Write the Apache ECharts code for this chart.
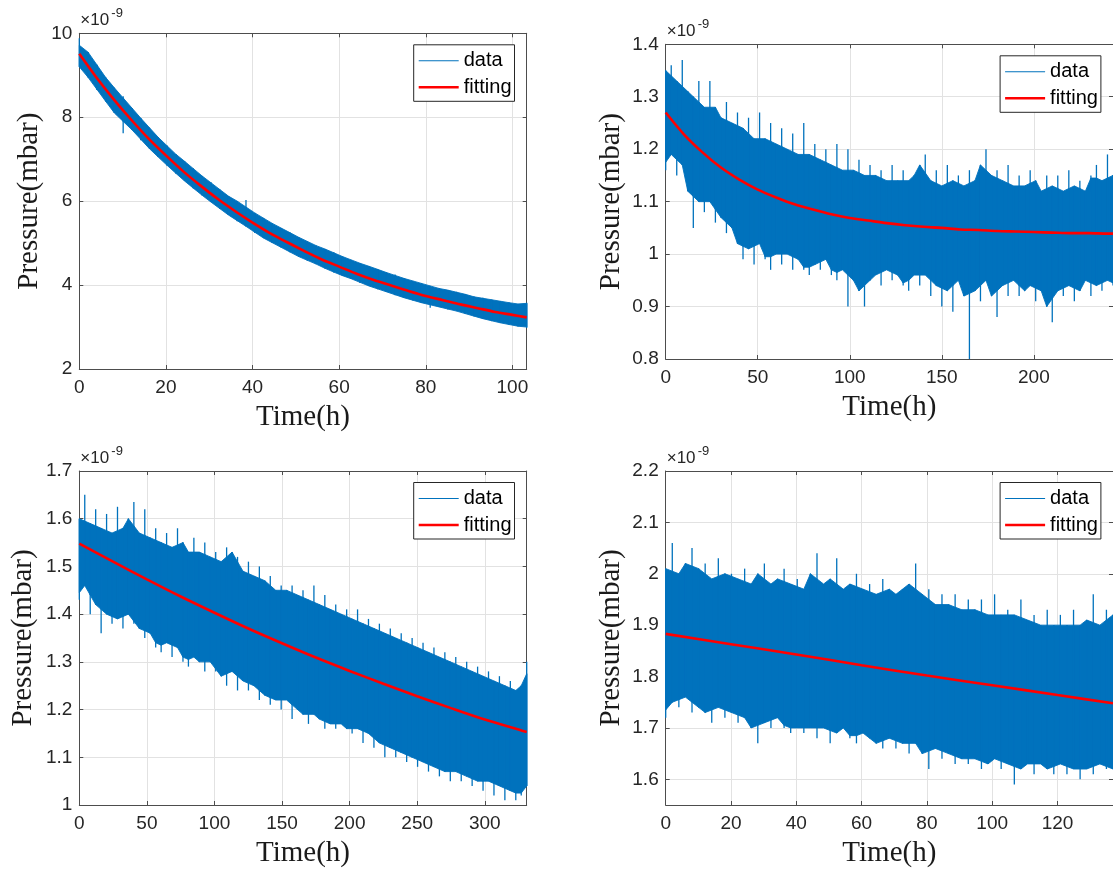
<!DOCTYPE html>
<html><head><meta charset="utf-8">
<script src="https://cdn.jsdelivr.net/npm/echarts@6/dist/echarts.min.js"></script>
<style>html,body{margin:0;padding:0;background:#fff}#c{width:1113px;height:870px}</style>
</head><body><div id="c"></div>
<script>
// ---------------- DATA (×1e-9 mbar) ----------------
// Panel 1 (top-left): upper / lower envelope of the noisy data, evenly sampled 0..103.3 h
const tlEnd = 103.3;
const tlHi = [9.88,9.55,9.25,8.95,8.70,8.50,8.22,7.98,7.75,7.52,
  7.32,7.12,6.95,6.78,6.60,6.45,6.28,6.12,6.00,6.03,
  5.72,5.60,5.47,5.36,5.25,5.14,5.04,4.94,4.86,4.78,
  4.68,4.60,4.52,4.45,4.38,4.30,4.25,4.16,4.10,4.05,
  3.98,3.92,3.88,3.84,3.78,3.72,3.70,3.65,3.62,3.58,
  3.55,3.58];
const tlLo = [9.20,8.95,8.65,8.38,8.10,7.62,7.70,7.45,7.25,7.05,
  6.85,6.66,6.48,6.30,6.14,5.98,5.82,5.67,5.52,5.40,
  5.24,5.12,5.00,4.90,4.78,4.68,4.58,4.50,4.40,4.30,
  4.22,4.15,4.05,3.98,3.90,3.84,3.76,3.70,3.64,3.58,
  3.46,3.48,3.42,3.38,3.32,3.26,3.20,3.14,3.10,3.06,
  3.02,2.98];
const tlFitT = [0,4,8,12,16,20,24,28,32,36,40,44,48,52,56,60,64,68,72,76,80,84,88,92,96,100,103.3];
const tlFitV = [9.51,8.94,8.42,7.94,7.49,7.09,6.71,6.37,6.05,5.76,5.49,5.24,5.02,4.81,4.61,4.44,4.27,4.12,3.99,3.86,3.74,3.64,3.54,3.45,3.36,3.29,3.23];

// Panel 2 (top-right): sampled 0..243 h
const trEnd = 243;
const trHi = [1.35,1.36,1.33,1.37,1.31,1.30,1.33,1.28,1.33,1.28,
  1.26,1.29,1.25,1.27,1.24,1.26,1.22,1.27,1.22,1.25,
  1.21,1.24,1.20,1.23,1.19,1.25,1.19,1.21,1.18,1.20,
  1.17,1.21,1.16,1.20,1.16,1.18,1.15,1.17,1.15,1.16,
  1.14,1.17,1.14,1.16,1.14,1.15,1.17,1.19,1.14,1.16,
  1.13,1.17,1.14,1.15,1.13,1.16,1.14,1.17,1.20,1.15,
  1.16,1.14,1.17,1.13,1.15,1.13,1.16,1.14,1.12,1.15,
  1.13,1.15,1.12,1.16,1.13,1.14,1.12,1.15,1.17,1.14,
  1.19,1.15];
const trLo = [1.16,1.19,1.15,1.17,1.12,1.05,1.10,1.08,1.10,1.06,
  1.07,1.04,1.05,1.02,0.99,1.01,0.98,1.02,0.99,0.97,
  1.00,0.98,1.00,0.97,0.99,0.97,0.96,0.98,0.97,0.99,
  0.96,0.95,0.97,0.90,0.95,0.93,0.90,0.95,0.96,0.94,
  0.97,0.95,0.96,0.94,0.93,0.96,0.94,0.96,0.92,0.94,
  0.90,0.93,0.89,0.95,0.92,0.80,0.93,0.91,0.95,0.92,
  0.88,0.94,0.92,0.95,0.92,0.93,0.94,0.91,0.93,0.90,
  0.87,0.93,0.92,0.94,0.91,0.93,0.95,0.92,0.94,0.93,
  0.95,0.94];
const trFitT = [0,10,20,30,40,50,60,70,80,90,100,110,120,130,140,150,160,170,180,190,200,210,220,230,240,243];
const trFitV = [1.270,1.228,1.194,1.165,1.142,1.123,1.108,1.095,1.085,1.076,1.069,1.064,1.059,1.055,1.052,1.050,1.047,1.046,1.044,1.043,1.042,1.041,1.040,1.040,1.039,1.039];

// Panel 3 (bottom-left): sampled 0..331 h
const blEnd = 331;
const blHi = [1.60,1.65,1.59,1.62,1.58,1.61,1.57,1.625,1.58,1.60,
  1.635,1.57,1.62,1.56,1.58,1.55,1.57,1.54,1.58,1.55,
  1.53,1.56,1.53,1.55,1.52,1.53,1.51,1.54,1.53,1.52,
  1.49,1.51,1.48,1.50,1.47,1.48,1.45,1.46,1.45,1.46,
  1.44,1.45,1.43,1.46,1.42,1.44,1.41,1.42,1.40,1.41,
  1.39,1.41,1.38,1.39,1.37,1.38,1.36,1.37,1.35,1.36,
  1.34,1.35,1.33,1.34,1.32,1.33,1.31,1.32,1.30,1.31,
  1.29,1.30,1.28,1.29,1.27,1.28,1.26,1.27,1.25,1.26,
  1.24,1.25,1.30];
const blLo = [1.43,1.46,1.40,1.42,1.36,1.40,1.38,1.39,1.37,1.40,
  1.38,1.37,1.35,1.36,1.33,1.32,1.34,1.31,1.33,1.30,
  1.29,1.31,1.30,1.28,1.30,1.28,1.27,1.25,1.28,1.24,
  1.26,1.24,1.25,1.22,1.23,1.21,1.22,1.20,1.22,1.18,
  1.20,1.19,1.17,1.19,1.18,1.16,1.17,1.16,1.17,1.16,
  1.15,1.16,1.13,1.15,1.12,1.13,1.10,1.12,1.10,1.11,
  1.09,1.10,1.08,1.09,1.07,1.08,1.06,1.07,1.05,1.07,
  1.05,1.06,1.04,1.05,1.03,1.05,1.02,1.04,1.01,1.03,
  1.01,1.02,1.04];
const blFitT = [0,25,50,75,100,125,150,175,200,225,250,275,300,325,331];
const blFitV = [1.548,1.510,1.473,1.437,1.403,1.370,1.339,1.309,1.281,1.254,1.228,1.203,1.179,1.158,1.153];

// Panel 4 (bottom-right): sampled 0..137 h
const brEnd = 137;
const brHi = [2.01,2.06,2.00,2.02,2.05,2.01,2.02,1.99,2.03,2.00,
  2.00,1.99,2.01,1.98,2.00,2.02,1.98,1.99,2.01,1.98,
  1.99,1.97,2.00,2.04,1.98,1.99,2.03,1.97,1.98,2.00,
  1.97,1.98,1.96,1.99,1.97,1.96,1.97,1.98,2.02,1.96,
  1.97,1.94,1.96,1.94,1.96,1.93,1.95,1.93,1.95,1.92,
  1.96,1.92,1.93,1.92,1.95,1.91,1.92,1.90,1.93,1.90,
  1.92,1.90,1.93,1.90,1.91,1.96,1.90,1.93,1.92];
const brLo = [1.72,1.75,1.74,1.76,1.73,1.74,1.73,1.71,1.74,1.72,
  1.73,1.71,1.72,1.70,1.67,1.71,1.70,1.72,1.70,1.69,
  1.70,1.69,1.70,1.68,1.70,1.67,1.69,1.70,1.68,1.67,
  1.69,1.68,1.67,1.66,1.68,1.66,1.67,1.65,1.67,1.65,
  1.62,1.66,1.64,1.65,1.63,1.64,1.63,1.64,1.62,1.63,
  1.64,1.62,1.63,1.59,1.62,1.63,1.61,1.63,1.62,1.61,
  1.63,1.61,1.62,1.60,1.62,1.61,1.63,1.62,1.62];
const brFitT = [0,20,40,60,80,100,120,137];
const brFitV = [1.883,1.863,1.843,1.822,1.802,1.783,1.764,1.748];

// axis tick settings
const xTickStep = [20, 50, 50, 20];
const yRange = [[2, 10], [0.8, 1.4], [1, 1.7], [1.55, 2.2]];
const yTickStep = [2, 0.1, 0.1, null];

// ---------------- LAYOUT / STYLE ----------------
const BLUE = '#0072BD', RED = '#FF0000', AX = '#4d4d4d', TXT = '#262626', GRIDC = '#e2e2e2';
const SANS = '"Liberation Sans", Arial, sans-serif';
const SERIF = '"Liberation Serif", "Times New Roman", serif';
const W = 447.4;
const grids = [
  {left: 79.3, top: 33.3, width: W, height: 335.7},
  {left: 665.7, top: 44.3, width: W, height: 314.7},
  {left: 79.3, top: 471, width: W, height: 334},
  {left: 665.7, top: 471, width: W, height: 334}
];
const yNameGaps = [35, 40, 41, 40];
const panels = [
  {hi: tlHi, lo: tlLo, end: tlEnd, fT: tlFitT, fV: tlFitV},
  {hi: trHi, lo: trLo, end: trEnd, fT: trFitT, fV: trFitV},
  {hi: blHi, lo: blLo, end: blEnd, fT: blFitT, fV: blFitV},
  {hi: brHi, lo: brLo, end: brEnd, fT: brFitT, fV: brFitV}
];

// Each item: [t, hi, lo, coreHi, coreLo, tNext, coreHiNext, coreLoNext]
// Draws the dense core between neighbouring samples plus the sample's own spike (lo..hi).
function bandItem(params, api) {
  const t = api.value(0), tn = api.value(5);
  const a = api.coord([t, api.value(3)]);
  const b = api.coord([tn, api.value(6)]);
  const c = api.coord([tn, api.value(7)]);
  const d = api.coord([t, api.value(4)]);
  const top = api.coord([t, api.value(1)]);
  const bot = api.coord([t, api.value(2)]);
  return {type: 'group', children: [
    {type: 'polygon', shape: {points: [a, b, c, d]}, style: {fill: BLUE, stroke: BLUE, lineWidth: 0.9}},
    {type: 'line', shape: {x1: top[0], y1: top[1], x2: bot[0], y2: bot[1]}, style: {stroke: BLUE, lineWidth: 1.3}}
  ]};
}

const option = {animation: false, backgroundColor: '#fff', grid: [], xAxis: [], yAxis: [], series: [], legend: [], graphic: []};

panels.forEach((p, k) => {
  const g = grids[k];
  option.grid.push({left: g.left, top: g.top, width: g.width, height: g.height, containLabel: false});
  const lineAx = {show: true, onZero: false, lineStyle: {color: AX, width: 1}};
  const tick = {show: true, inside: true, length: 4, lineStyle: {color: AX, width: 1}};
  const xBase = {gridIndex: k, type: 'value', min: 0, max: p.end, interval: xTickStep[k]};
  option.xAxis.push(Object.assign({}, xBase, {
    position: 'bottom', axisLine: lineAx, axisTick: tick,
    axisLabel: {margin: 9, fontSize: 19, fontFamily: SANS, color: TXT, showMaxLabel: false},
    splitLine: {show: true, lineStyle: {color: GRIDC, width: 1}},
    name: 'Time(h)', nameLocation: 'middle', nameGap: 34,
    nameTextStyle: {fontFamily: SERIF, fontSize: 29, color: '#1a1a1a'}
  }));
  option.xAxis.push(Object.assign({}, xBase, {
    position: 'top', axisLine: lineAx, axisTick: tick, axisLabel: {show: false}, splitLine: {show: false}
  }));
  const yBase = {gridIndex: k, type: 'value', min: yRange[k][0], max: yRange[k][1]};
  if (yTickStep[k]) yBase.interval = yTickStep[k]; else yBase.splitNumber = 7;
  option.yAxis.push(Object.assign({}, yBase, {
    position: 'left', axisLine: lineAx, axisTick: tick,
    axisLabel: {margin: 7, fontSize: 19, fontFamily: SANS, color: TXT, showMinLabel: yTickStep[k] ? true : false},
    splitLine: {show: true, lineStyle: {color: GRIDC, width: 1}},
    name: 'Pressure(mbar)', nameLocation: 'middle', nameGap: yNameGaps[k],
    nameTextStyle: {fontFamily: SERIF, fontSize: 29, color: '#1a1a1a'}
  }));
  option.yAxis.push(Object.assign({}, yBase, {
    position: 'right', axisLine: lineAx, axisTick: tick, axisLabel: {show: false}, splitLine: {show: false}
  }));

  const n = p.lo.length;
  const step = p.end / (n - 1);
  const nb = (arr, i) => (arr[Math.max(i - 1, 0)] + arr[Math.min(i + 1, n - 1)]) / 2;
  const cHi = p.hi.map((v, i) => Math.min(v, nb(p.hi, i)));
  const cLo = p.lo.map((v, i) => Math.max(v, nb(p.lo, i)));
  const items = [];
  for (let i = 0; i < n; i++) {
    const j = Math.min(i + 1, n - 1);
    items.push([i * step, p.hi[i], p.lo[i], cHi[i], cLo[i], j * step, cHi[j], cLo[j]]);
  }
  option.series.push({name: 'data', type: 'custom', xAxisIndex: 2 * k, yAxisIndex: 2 * k,
    silent: true, renderItem: bandItem, data: items, itemStyle: {color: BLUE},
    encode: {x: [0, 5], y: [1, 2]}, z: 2});
  option.series.push({name: 'fitting', type: 'line', xAxisIndex: 2 * k, yAxisIndex: 2 * k, symbol: 'none',
    silent: true, smooth: 0.3, data: p.fT.map((t, i) => [t, p.fV[i]]),
    lineStyle: {width: 2.6, color: RED}, itemStyle: {color: RED}, z: 5});

  option.legend.push({
    left: g.left + g.width - 113, top: g.top + 11.5, orient: 'vertical',
    padding: [6, 3, 4, 5], itemGap: 6.5, itemWidth: 40, itemHeight: 3,
    borderColor: '#262626', borderWidth: 1, borderRadius: 0, backgroundColor: '#fff',
    selectedMode: false, textStyle: {fontSize: 20, fontFamily: SANS, color: '#000'},
    data: [
      {name: 'data', icon: 'path://M0,0H40V1H0Z', itemStyle: {color: BLUE, borderWidth: 0}},
      {name: 'fitting', icon: 'path://M0,0H40V2.6H0Z', itemStyle: {color: RED, borderWidth: 0}}
    ]
  });

  option.graphic.push({type: 'text', left: g.left + 1, top: g.top - 21,
    style: {text: '×10', font: '17px ' + SANS, fill: TXT}});
  option.graphic.push({type: 'text', left: g.left + 32, top: g.top - 26,
    style: {text: '-9', font: '13px ' + SANS, fill: TXT}});
});

const chart = echarts.init(document.getElementById('c'), null, {renderer: 'canvas'});
chart.setOption(option);
</script>
</body></html>
